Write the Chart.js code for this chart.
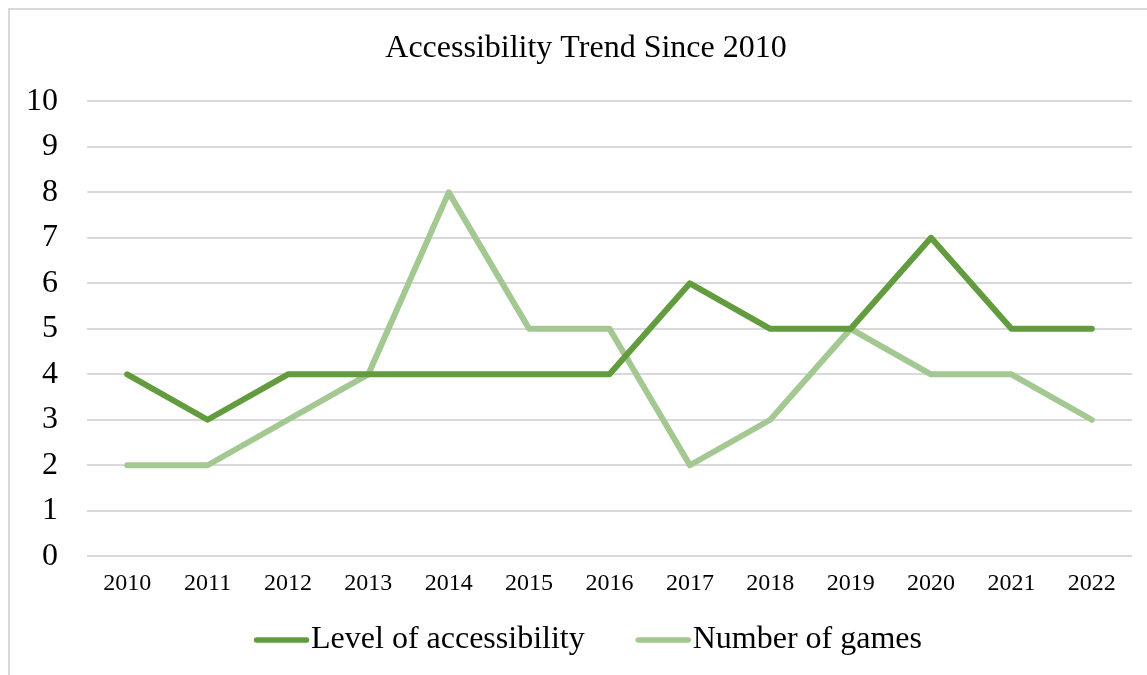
<!DOCTYPE html>
<html>
<head>
<meta charset="utf-8">
<script src="https://cdn.jsdelivr.net/npm/chart.js@4/dist/chart.umd.min.js"></script>
<style>
  html, body { margin: 0; padding: 0; background: #fff; }
  #wrap { position: relative; width: 1147px; height: 675px; overflow: hidden; }
  #frame { position: absolute; left: 8px; top: 8px; width: 1200px; height: 700px; border: 2px solid #d9d9d9; box-sizing: border-box; }
  #box { position: absolute; left: 0; top: 0; width: 1147px; height: 675px; }
</style>
</head>
<body>
<div id="wrap">
  <div id="frame"></div>
  <div id="box"><canvas id="myChart"></canvas></div>
</div>
<script>
// データ
var years = ["2010", "2011", "2012", "2013", "2014", "2015", "2016", "2017", "2018", "2019", "2020", "2021", "2022"];
var accessLevel = [4, 3, 4, 4, 4, 4, 4, 6, 5, 5, 7, 5, 5];
var gameCount = [2, 2, 3, 4, 8, 5, 5, 2, 3, 5, 4, 4, 3];
var yTicks = [0, 1, 2, 3, 4, 5, 6, 7, 8, 9, 10];

var serif = "'Liberation Serif', 'Times New Roman', serif";

// タイトルを少し右へ（枠の中央に合わせる）
var titleShift = {
  id: 'titleShift',
  afterLayout: function(chart) {
    if (chart.titleBlock) chart.titleBlock.left = 40;
  }
};

// 凡例は下に自前で描く（線が長く、文字との間が狭いため）
var bottomLegend = {
  id: 'bottomLegend',
  afterDraw: function(chart) {
    var c = chart.ctx;
    var lineLen = 55, gap = 2, itemGap = 51, y = 640;
    c.save();
    c.font = "32px " + serif;
    c.textBaseline = 'middle';
    c.textAlign = 'left';
    var sets = chart.data.datasets;
    var total = 0;
    for (var i = 0; i < sets.length; i++) {
      total += lineLen + gap + c.measureText(sets[i].label).width;
      if (i > 0) total += itemGap;
    }
    var x = 588 - total / 2;
    for (var i = 0; i < sets.length; i++) {
      c.strokeStyle = sets[i].borderColor;
      c.lineWidth = 5.5;
      c.lineCap = 'round';
      c.beginPath();
      c.moveTo(x + 2.5, y);
      c.lineTo(x + lineLen - 2.5, y);
      c.stroke();
      x += lineLen + gap;
      c.fillStyle = "#000";
      c.fillText(sets[i].label, x, y);
      x += c.measureText(sets[i].label).width + itemGap;
    }
    c.restore();
  }
};

var ctx = document.getElementById("myChart").getContext("2d");
var myChart = new Chart(ctx, {
  type: 'line',
  data: {
    labels: years,
    datasets: [
      { label: "Level of accessibility", data: accessLevel, borderColor: "#629c3f", backgroundColor: "#629c3f", borderWidth: 6, pointRadius: 0, borderCapStyle: 'round', borderJoinStyle: 'round', fill: false },
      { label: "Number of games", data: gameCount, borderColor: "#a3c891", backgroundColor: "#a3c891", borderWidth: 6, pointRadius: 0, borderCapStyle: 'round', borderJoinStyle: 'round', fill: false }
    ]
  },
  options: {
    responsive: true,
    maintainAspectRatio: false,
    animation: false,
    layout: { padding: { left: 0, right: 15, top: 0, bottom: 64 } },
    plugins: {
      title: {
        display: true,
        text: "Accessibility Trend Since 2010",
        color: "#000",
        font: { family: serif, size: 32, weight: 'normal' },
        padding: { top: 29, bottom: 34 }
      },
      legend: { display: false },
      tooltip: { enabled: false }
    },
    scales: {
      x: {
        offset: true,
        grid: { display: false, drawTicks: false },
        border: { display: false },
        ticks: { color: "#000", font: { family: serif, size: 24 }, padding: 13, maxRotation: 0 }
      },
      y: {
        min: 0,
        max: 10,
        afterBuildTicks: function(scale) {
          scale.ticks = yTicks.map(function(v) { return { value: v }; });
        },
        afterFit: function(scale) { scale.width = 87; },
        grid: { color: "#d9d9d9", lineWidth: 2, drawTicks: false },
        border: { display: false },
        ticks: { color: "#000", font: { family: serif, size: 32 }, padding: 29 }
      }
    }
  },
  plugins: [titleShift, bottomLegend]
});
</script>
</body>
</html>
